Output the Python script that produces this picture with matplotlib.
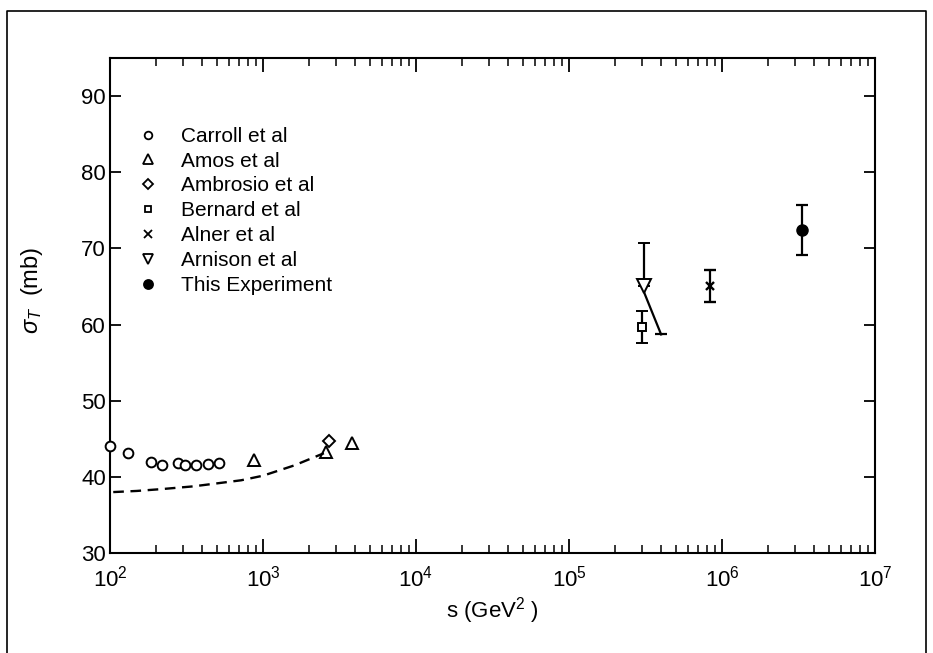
import matplotlib
matplotlib.use("Agg")
import matplotlib.pyplot as plt
import numpy as np
from matplotlib.lines import Line2D
from matplotlib.ticker import LogLocator, FixedLocator, NullFormatter

plt.rcParams['font.family'] = ['Liberation Sans', 'DejaVu Sans']
plt.rcParams['mathtext.fontset'] = 'custom'
plt.rcParams['mathtext.rm'] = 'Liberation Sans'
plt.rcParams['mathtext.it'] = 'Liberation Sans:italic'

# ---- data ----
carroll_s = [100, 132, 185, 219, 277, 311, 367, 437, 514]
carroll_sig = [44.0, 43.1, 41.9, 41.6, 41.85, 41.6, 41.55, 41.7, 41.85]
amos_s = [875, 2580, 3800]
amos_sig = [42.2, 43.3, 44.4]
ambrosio_s = [2700]
ambrosio_sig = [44.7]
bernard_s = [3.0e5]
bernard_sig = [59.7]
bernard_err = [2.1]
alner_s = [8.3e5]
alner_sig = [65.0]
alner_err = [2.1]
arnison_s = [3.1e5]
arnison_sig = [65.0]
arnison_err_up = [5.7]
arnison_low_s = [4.0e5]
arnison_low_sig = [58.7]
this_s = [3.33e6]
this_sig = [72.4]
this_err = [3.3]
curve_s = [105, 150, 220, 350, 460, 720, 1000, 1600, 2500]
curve_sig = [38.0, 38.15, 38.4, 38.75, 39.05, 39.55, 40.15, 41.5, 43.1]

labels = ['Carroll et al', 'Amos et al', 'Ambrosio et al', 'Bernard et al',
          'Alner et al', 'Arnison et al', 'This Experiment']
yticks = [30, 40, 50, 60, 70, 80, 90]
xticks = [1e2, 1e3, 1e4, 1e5, 1e6, 1e7]
xticklabels = [r'$\mathregular{10^{2}}$', r'$\mathregular{10^{3}}$', r'$\mathregular{10^{4}}$',
               r'$\mathregular{10^{5}}$', r'$\mathregular{10^{6}}$', r'$\mathregular{10^{7}}$']

W, H = 933, 653
fig = plt.figure(figsize=(W / 100, H / 100), dpi=100)
L, R, T, B = 110, 875, 58, 553
ax = fig.add_axes([L / W, 1 - B / H, (R - L) / W, (B - T) / H])

k = 'black'
mew = 1.4
ax.plot(carroll_s, carroll_sig, 'o', ms=7, mfc='white', mec=k, mew=mew, ls='none', zorder=5, clip_on=False)
ax.plot(amos_s, amos_sig, '^', ms=9, mfc='none', mec=k, mew=mew, ls='none', zorder=3)
ax.plot(ambrosio_s, ambrosio_sig, 'D', ms=6.5, mfc='white', mec=k, mew=mew, ls='none', zorder=4)
ax.errorbar(bernard_s, bernard_sig, yerr=bernard_err, fmt='s', ms=6, mfc='white', mec=k, mew=mew,
            ecolor=k, elinewidth=1.6, capsize=4, capthick=1.6, zorder=3)
ax.errorbar(alner_s, alner_sig, yerr=alner_err, fmt='x', ms=6, mec=k, mew=1.7,
            ecolor=k, elinewidth=1.6, capsize=4, capthick=1.6, zorder=3)
ax.errorbar(arnison_s, arnison_sig, yerr=[[0], arnison_err_up], fmt='v', ms=10, mfc='white', mec=k, mew=mew,
            ecolor=k, elinewidth=1.6, capsize=4, capthick=1.6, zorder=3)
# slanted lower error of Arnison
ax.plot([arnison_s[0], arnison_low_s[0]], [arnison_sig[0] - 0.8, arnison_low_sig[0]], color=k, lw=1.6, zorder=2)
ax.plot(arnison_low_s, arnison_low_sig, marker='_', ms=9, mew=1.6, color=k, zorder=2)
ax.errorbar(this_s, this_sig, yerr=this_err, fmt='o', ms=8, mfc=k, mec=k,
            ecolor=k, elinewidth=1.6, capsize=4, capthick=1.6, zorder=3)
ax.plot(curve_s, curve_sig, color=k, lw=1.7, dashes=(4.5, 2.8), zorder=2)

ax.set_xscale('log')
ax.set_xlim(1e2, 1e7)
ax.set_ylim(30, 95)

ax.xaxis.set_major_locator(FixedLocator(xticks))
ax.set_xticklabels(xticklabels)
ax.xaxis.set_minor_locator(LogLocator(base=10, subs=np.arange(2, 10)))
ax.xaxis.set_minor_formatter(NullFormatter())
ax.set_yticks(yticks)
ax.set_yticklabels([str(v) for v in yticks])

ax.tick_params(axis='x', which='major', direction='in', length=10, width=1.3, top=True,
               labelsize=16, pad=9, colors=k)
ax.tick_params(axis='x', which='minor', direction='in', length=6, width=1.1, top=True)
ax.tick_params(axis='y', which='major', direction='in', length=8, width=1.3, right=True,
               labelsize=16, pad=3)
for sp in ax.spines.values():
    sp.set_linewidth(1.5)

ax.set_xlabel(r's (GeV$^{2}$ )', fontsize=16, labelpad=3)
ax.set_ylabel(r'$\sigma_T$  (mb)', fontsize=17, labelpad=10)
ax.yaxis.set_label_coords(-0.085, 0.53)

# legend (markers only)
mk = dict(ls='none', color=k, mec=k, mew=1.3)
handles = [
    Line2D([], [], marker='o', ms=5.5, mfc='white', **mk),
    Line2D([], [], marker='^', ms=7, mfc='white', **mk),
    Line2D([], [], marker='D', ms=5, mfc='white', **mk),
    Line2D([], [], marker='s', ms=5, mfc='white', **mk),
    Line2D([], [], marker='x', ms=5.5, mfc='none', **mk),
    Line2D([], [], marker='v', ms=7, mfc='white', **mk),
    Line2D([], [], marker='o', ms=6.5, mfc=k, **mk),
]
leg = ax.legend(handles, labels, loc='upper left', bbox_to_anchor=(0.036, 0.861),
                frameon=False, fontsize=15, handlelength=1.0, handletextpad=1.1,
                labelspacing=0.28, borderpad=0, borderaxespad=0)

# outer frame (open at bottom)
fig.add_artist(Line2D([7 / W, 7 / W, 926 / W, 926 / W], [0, 1 - 11 / H, 1 - 11 / H, 0],
                      transform=fig.transFigure, color=k, lw=1.2))

fig.savefig('out.png', dpi=100)
